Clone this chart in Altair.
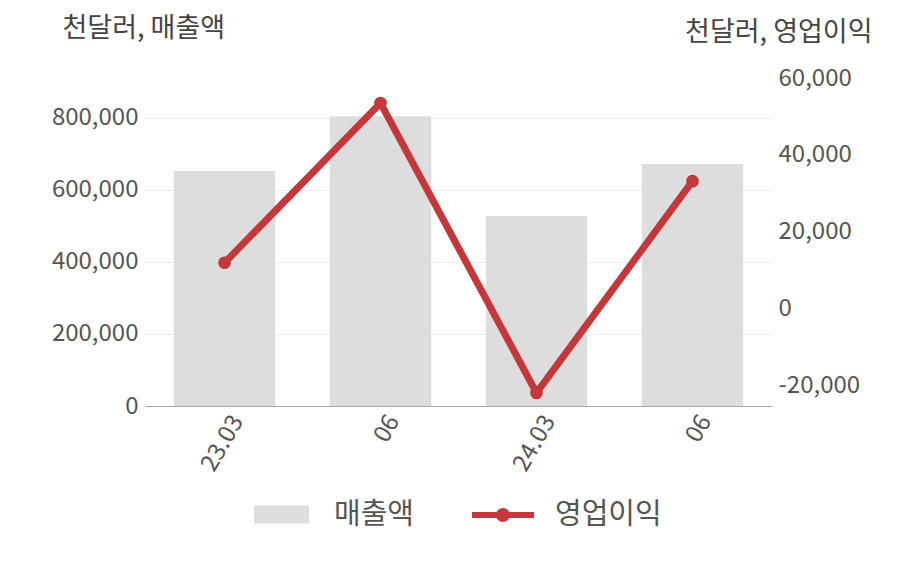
import altair as alt
import pandas as pd

periods = ["23.03", "23.06", "24.03", "24.06"]
sales = [653000, 805000, 528000, 672000]
op_profit = [12000, 53500, -21800, 33200]
sales_name = "매출액"
op_name = "영업이익"

df = pd.DataFrame({
    "period": periods,
    "sales": sales,
    "op": op_profit,
    "s1": [sales_name] * len(periods),
    "s2": [op_name] * len(periods),
})

FONT = "Noto Sans CJK KR"
RED = "#c4373a"
GRAY = "#dddddd"
NUM_EXPR = "replace(format(datum.value, ',d'), '\u2212', '-')"

x = alt.X(
    "period:N",
    sort=periods,
    title=None,
    scale=alt.Scale(paddingInner=0.35, paddingOuter=0.185),
    axis=alt.Axis(
        labelAngle=-60,
        labelAlign="right",
        labelBaseline="top",
        labelExpr="indexof(datum.label, '.03') > 0 ? datum.label : slice(datum.label, 3)",
        domainColor="#aaaaaa",
        domainWidth=1,
        ticks=False,
        labelPadding=5,
        labelOffset=3,
        grid=False,
    ),
)

bars = alt.Chart(df).mark_bar(opacity=1).encode(
    x=x,
    y=alt.Y(
        "sales:Q",
        scale=alt.Scale(domain=[0, 911000], nice=False, zero=False),
        axis=alt.Axis(
            orient="left",
            values=[0, 200000, 400000, 600000, 800000],
            labelExpr=NUM_EXPR,
            grid=True,
            gridColor="#ebebeb",
            domain=False,
            ticks=False,
            labelPadding=7,
            title="천달러, 매출액",
            titleAngle=0,
            titleX=-83,
            titleY=-50,
            titleAlign="left",
            titleBaseline="middle",
            titleLimit=400,
        ),
    ),
    color=alt.Color(
        "s1:N",
        scale=alt.Scale(domain=[sales_name], range=[GRAY]),
        legend=alt.Legend(
            title=None,
            orient="none",
            legendX=108,
            legendY=408,
            padding=0,
            symbolType="M-1,-0.33L1,-0.33L1,0.33L-1,0.33Z",
            symbolSize=3025,
            symbolOpacity=1,
            labelOffset=24,
            labelFontSize=29,
            labelFont=FONT,
            labelColor="#555555",
        ),
    ),
)

y_right = alt.Y(
    "op:Q",
    scale=alt.Scale(domain=[-25200, 60000], nice=False, zero=False),
    axis=alt.Axis(
        orient="right",
        values=[-20000, 0, 20000, 40000, 60000],
        labelExpr=NUM_EXPR,
        grid=False,
        domain=False,
        ticks=False,
        labelPadding=6,
        title="천달러, 영업이익",
        titleAngle=0,
        titleX=100,
        titleY=-46,
        titleAlign="right",
        titleBaseline="middle",
        titleLimit=400,
    ),
)

line = alt.Chart(df).mark_line(color=RED, strokeWidth=7).encode(x=x, y=y_right)

points = alt.Chart(df).mark_point(filled=True, size=160, opacity=1).encode(
    x=x,
    y=y_right,
    color=alt.Color(
        "s2:N",
        scale=alt.Scale(domain=[op_name], range=[RED]),
        legend=alt.Legend(
            title=None,
            orient="none",
            legendX=326,
            legendY=405,
            padding=0,
            symbolType="M-1,-0.1L1,-0.1L1,0.1L-1,0.1Z M0.226,0A0.226,0.226 0 1,1 -0.226,0A0.226,0.226 0 1,1 0.226,0Z",
            symbolSize=3844,
            symbolOpacity=1,
            labelOffset=20,
            labelFontSize=29,
            labelFont=FONT,
            labelColor="#555555",
        ),
    ),
)

right = alt.layer(line, points)

chart = (
    alt.layer(bars, right)
    .resolve_scale(y="independent", color="independent")
    .properties(
        width=627,
        height=328,
        autosize=alt.AutoSizeParams(type="none"),
        padding={"left": 137, "top": 70, "right": 110, "bottom": 150},
    )
    .configure_view(stroke=None)
    .configure_axis(
        labelFont=FONT,
        labelFontSize=24,
        labelColor="#555555",
        titleFont=FONT,
        titleFontSize=27,
        titleColor="#444444",
        titleFontWeight="normal",
    )
)

chart.save("out.html", embed_options={"renderer": "svg", "actions": False})
